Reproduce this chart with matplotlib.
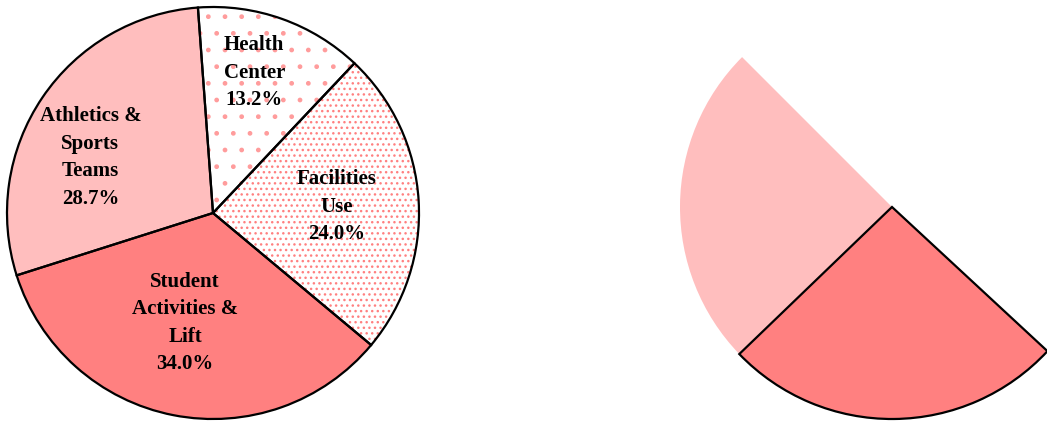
import matplotlib.pyplot as plt

# left pie: student fees breakdown
labels = ['Health\nCenter', 'Facilities\nUse', 'Student\nActivities &\nLift', 'Athletics &\nSports\nTeams']
shares = [13.2, 24.0, 34.0, 28.7]

# right pie (only two slices are visible, the rest is left blank)
right_shares = [49.4, 25.9, 24.7]

W, H = 1047, 421
fig = plt.figure(figsize=(W / 100, H / 100), dpi=100)
fig.patch.set_facecolor('white')

pink = '#FF8080'
light = '#FFBEBE'
faces = ['white', 'white', pink, light]
hatches = ['.', '...', None, None]
hatch_cols = ['#FF9C9C', '#FF8080', pink, light]

# label positions inside the pie (radius = 1)
label_xy = [(0.20, 0.68), (0.60, 0.03), (-0.135, -0.535), (-0.595, 0.27)]


def pie_axes(cx, cy, r):
    ax = fig.add_axes([(cx - r) / W, (H - cy - r) / H, 2 * r / W, 2 * r / H])
    ax.axis('off')
    return ax


def fix_lims(ax):
    ax.set_xlim(-1, 1)
    ax.set_ylim(-1, 1)
    ax.set_aspect('auto')


ax1 = pie_axes(213, 213, 206)
wedges, _ = ax1.pie(shares, startangle=94.2, counterclock=False, radius=1,
                    wedgeprops=dict(linewidth=0))
for w, fc, h, hc in zip(wedges, faces, hatches, hatch_cols):
    w.set_facecolor(fc)
    w.set_edgecolor(hc)
    if h:
        w.set_hatch(h)
# black outlines on top
ax1.pie(shares, startangle=94.2, counterclock=False, radius=1,
        wedgeprops=dict(fill=False, edgecolor='black', linewidth=1.6))
for (x, y), lab, s in zip(label_xy, labels, shares):
    ax1.text(x, y, '%s\n%.1f%%' % (lab, s), ha='center', va='center',
             family='Liberation Serif', fontweight='bold', fontsize=15,
             linespacing=1.5)
fix_lims(ax1)

ax2 = pie_axes(892, 207, 212)
rw, _ = ax2.pie(right_shares, startangle=135, counterclock=False, radius=1,
                wedgeprops=dict(linewidth=0))
rw[0].set_visible(False)
rw[1].set_facecolor(pink)
rw[1].set_edgecolor(pink)
rw[2].set_facecolor(light)
rw[2].set_edgecolor(light)
ro, _ = ax2.pie(right_shares, startangle=135, counterclock=False, radius=1,
                wedgeprops=dict(fill=False, edgecolor='black', linewidth=1.6))
ro[0].set_visible(False)
ro[2].set_visible(False)
fix_lims(ax2)

fig.savefig('out.png', dpi=100)
